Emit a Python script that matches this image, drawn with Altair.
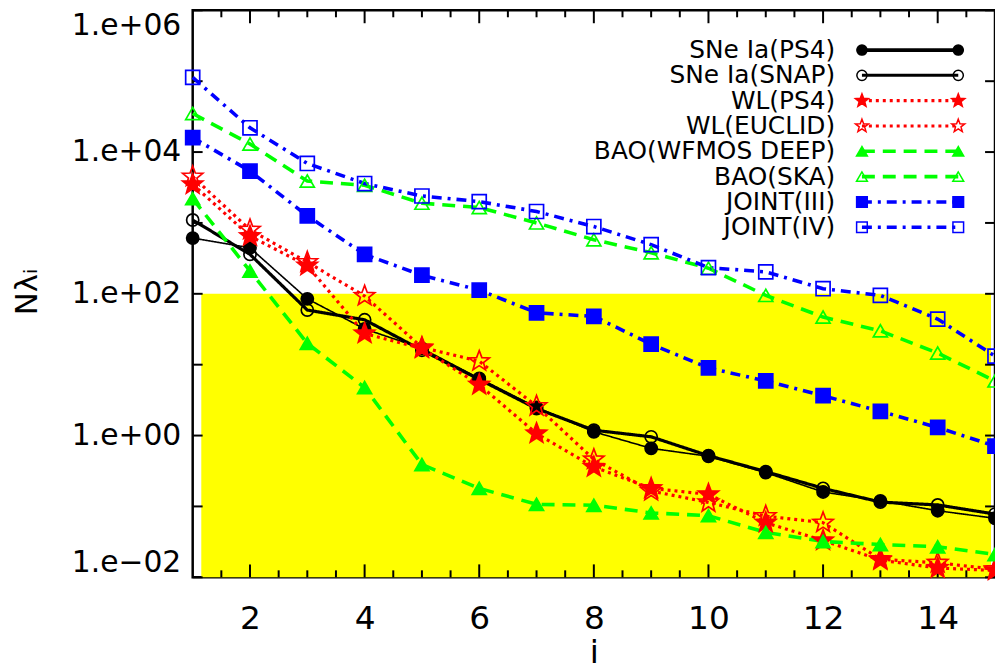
import math
import altair as alt
import pandas as pd

# ---------------- data ----------------
i_vals = list(range(1, 16))

sne_ps4 = [612, 446, 85, 32, 17, 6.4, 2.5, 1.13, 0.66, 0.51, 0.30, 0.16, 0.12, 0.087, 0.068]
sne_snap = [1100, 360, 59, 43, 16, 6.2, 2.4, 1.19, 0.96, 0.52, 0.31, 0.18, 0.115, 0.105, 0.078]
wl_ps4 = [3500, 650, 250, 27.5, 17, 5.2, 1.07, 0.36, 0.18, 0.148, 0.059, 0.033, 0.0175, 0.0135, 0.0125]
wl_euclid = [4500, 800, 280, 93, 17.5, 11.2, 2.6, 0.46, 0.165, 0.114, 0.073, 0.059, 0.018, 0.016, 0.013]
bao_wfmos = [2200, 210, 20, 4.75, 0.39, 0.18, 0.107, 0.104, 0.081, 0.074, 0.043, 0.032, 0.029, 0.027, 0.021]
bao_ska = [35000, 13000, 3900, 3400, 1900, 1650, 1000, 580, 380, 230, 95, 47, 30, 14.6, 5.9]
joint_iii = [16000, 5400, 1260, 359, 183, 113, 54, 48, 19.5, 9.0, 5.9, 3.65, 2.2, 1.3, 0.71]
joint_iv = [113000, 22000, 6900, 3600, 2400, 2000, 1450, 890, 494, 234, 204, 118, 95, 44, 13.2]

series_names = ["SNe Ia(PS4)", "SNe Ia(SNAP)", "WL(PS4)", "WL(EUCLID)",
                "BAO(WFMOS DEEP)", "BAO(SKA)", "JOINT(III)", "JOINT(IV)"]
series_values = [sne_ps4, sne_snap, wl_ps4, wl_euclid, bao_wfmos, bao_ska, joint_iii, joint_iv]

shade_x = [1.15, 14.93]
shade_y = [0.01, 100]

x_domain = [1, 15]
y_domain = [0.01, 1e6]
x_labels = [2, 4, 6, 8, 10, 12, 14]
y_decades = [10.0 ** k for k in range(-2, 7)]
x_minor = [h / 2 for h in range(3, 30) if h % 4 != 0]

# ---------------- styles ----------------
BLACK, RED, GREEN, BLUE = "#000000", "#ff0000", "#00ff00", "#0000ff"
FONT = "DejaVu Sans"


def star_path(inner=0.42):
    pts = []
    for k in range(10):
        ang = math.radians(-90 + 36 * k)
        r = 1.0 if k % 2 == 0 else inner
        pts.append(f"{r * math.cos(ang):.3f},{r * math.sin(ang):.3f}")
    return "M" + "L".join(pts) + "Z"


STAR = star_path()
colors = [BLACK, BLACK, RED, RED, GREEN, GREEN, BLUE, BLUE]
dashes = [[1, 0], [1, 0], [3, 4], [3, 4], [13, 8], [13, 8], [10, 6, 3, 6], [10, 6, 3, 6]]
plot_widths = [1.6, 3.2, 3.2, 3.2, 3.6, 3.6, 3.6, 3.6]
legend_widths = [3.8, 3.0, 3.2, 3.2, 3.6, 3.6, 3.6, 3.6]
shapes = ["circle", "circle", STAR, STAR, "triangle-up", "triangle-up", "square", "square"]
fills = [BLACK, "transparent", RED, "transparent", GREEN, "transparent", BLUE, "transparent"]
plot_sizes = [150, 150, 460, 460, 200, 200, 200, 200]
legend_sizes = [105, 105, 190, 190, 120, 120, 115, 115]

W, H = 808, 571

# ---------------- tables ----------------
rows = []
for name, vals in zip(series_names, series_values):
    for i, v in zip(i_vals, vals):
        rows.append({"i": i, "value": v, "series": name})
df = pd.DataFrame(rows)

shade_df = pd.DataFrame({"x0": [shade_x[0]], "x1": [shade_x[1]], "y0": [shade_y[0]], "y1": [shade_y[1]]})
ydec_df = pd.DataFrame({"value": y_decades})
xmaj_df = pd.DataFrame({"i": x_labels})
xmin_df = pd.DataFrame({"i": x_minor})
leg_df = pd.DataFrame({"series": series_names, "row": list(range(len(series_names)))})

xs = alt.Scale(domain=x_domain, nice=False, zero=False)
ys = alt.Scale(type="log", domain=y_domain, nice=False)

color_s = alt.Color("series:N", scale=alt.Scale(domain=series_names, range=colors), legend=None)
dash_s = alt.StrokeDash("series:N", scale=alt.Scale(domain=series_names, range=dashes), legend=None)
shape_s = alt.Shape("series:N", scale=alt.Scale(domain=series_names, range=shapes), legend=None)
fill_s = alt.Fill("series:N", scale=alt.Scale(domain=series_names, range=fills), legend=None)


def ordinal(rng):
    return alt.Scale(type="ordinal", domain=series_names, range=rng)


label_expr = ("(round(log(datum.value)/LN10) % 2 != 0) ? '' : "
              "'1.e' + (datum.value >= 1 ? '+' : '\u2212') + '0' + abs(round(log(datum.value)/LN10))")

x_axis = alt.Axis(values=x_labels, ticks=False, domain=False, grid=False, format="d",
                  labelFont=FONT, labelFontSize=33, labelPadding=26, labelColor="black",
                  title="i", titleFont=FONT, titleFontSize=33, titleFontWeight="normal",
                  titlePadding=1, titleColor="black")
y_axis = alt.Axis(values=y_decades, ticks=False, domain=False, grid=False,
                  labelExpr=label_expr, labelFlush=True, labelOverlap=False,
                  labelFont=FONT, labelFontSize=30, labelPadding=12, labelColor="black",
                  title="N\u03bb\u1d62", titleFont=FONT, titleFontSize=31, titleFontWeight="normal",
                  titleColor="black", titleAngle=270, titleX=-157, titleY=283,
                  titleAlign="center", titleBaseline="alphabetic")


def X(field):
    return alt.X(field, scale=xs, axis=x_axis)


shade = alt.Chart(shade_df).mark_rect(color="#ffff00").encode(
    x=X("x0:Q"),
    x2="x1:Q",
    y=alt.Y("y0:Q", scale=ys, axis=y_axis),
    y2="y1:Q",
)

tick_style = dict(color="black", strokeWidth=2)
ytick_l = alt.Chart(ydec_df).mark_rule(**tick_style).encode(
    y=alt.Y("value:Q", scale=ys, axis=None), x=alt.value(0), x2=alt.value(10))
ytick_r = alt.Chart(ydec_df).mark_rule(**tick_style).encode(
    y=alt.Y("value:Q", scale=ys, axis=None), x=alt.value(W), x2=alt.value(W - 10))
xmaj_b = alt.Chart(xmaj_df).mark_rule(**tick_style).encode(
    x=X("i:Q"), y=alt.value(H), y2=alt.value(H - 13))
xmaj_t = alt.Chart(xmaj_df).mark_rule(**tick_style).encode(
    x=X("i:Q"), y=alt.value(0), y2=alt.value(13))
xmin_b = alt.Chart(xmin_df).mark_rule(**tick_style).encode(
    x=X("i:Q"), y=alt.value(H), y2=alt.value(H - 7))
xmin_t = alt.Chart(xmin_df).mark_rule(**tick_style).encode(
    x=X("i:Q"), y=alt.value(0), y2=alt.value(7))

lines = alt.Chart(df).mark_line().encode(
    x=X("i:Q"),
    y=alt.Y("value:Q", scale=ys, axis=None),
    color=color_s,
    strokeDash=dash_s,
    strokeWidth=alt.StrokeWidth("series:N", scale=ordinal(plot_widths), legend=None),
    detail="series:N",
)

points = alt.Chart(df).mark_point(filled=False, opacity=1, strokeWidth=1.7).encode(
    x=X("i:Q"),
    y=alt.Y("value:Q", scale=ys, axis=None),
    color=color_s,
    fill=fill_s,
    shape=shape_s,
    size=alt.Size("series:N", scale=ordinal(plot_sizes), legend=None),
)

# ---------------- legend (top right, labels left of symbols) ----------------
leg_y = alt.Y("row:Q", scale=alt.Scale(domain=[0, 7], range=[40, 218.5]), axis=None)
LX0, LX1 = 674, 771

leg_lines = alt.Chart(leg_df).mark_rule().encode(
    y=leg_y, x=alt.value(LX0), x2=alt.value(LX1),
    color=color_s, strokeDash=dash_s,
    strokeWidth=alt.StrokeWidth("series:N", scale=ordinal(legend_widths), legend=None),
)
leg_size = alt.Size("series:N", scale=ordinal(legend_sizes), legend=None)
leg_pts_a = alt.Chart(leg_df).mark_point(filled=False, opacity=1, strokeWidth=1.5).encode(
    y=leg_y, x=alt.value(LX0), color=color_s, fill=fill_s, shape=shape_s, size=leg_size)
leg_pts_b = alt.Chart(leg_df).mark_point(filled=False, opacity=1, strokeWidth=1.5).encode(
    y=leg_y, x=alt.value(LX1), color=color_s, fill=fill_s, shape=shape_s, size=leg_size)
leg_text = alt.Chart(leg_df).mark_text(align="right", baseline="middle", font=FONT,
                                       fontSize=25, color="black").encode(
    y=leg_y, x=alt.value(647), text="series:N")

chart = alt.layer(
    shade, ytick_l, ytick_r, xmaj_b, xmaj_t, xmin_b, xmin_t, lines, points,
    leg_lines, leg_pts_a, leg_pts_b, leg_text,
).resolve_scale(
    y="independent", strokeWidth="independent", size="independent"
).properties(
    width=W, height=H,
    autosize=alt.AutoSizeParams(type="none"),
    padding={"left": 186, "top": 0, "right": 0, "bottom": 88},
    background="white",
).configure_view(stroke="black", strokeWidth=2.5)

chart.save("out.html", embed_options={"renderer": "svg", "actions": False})
